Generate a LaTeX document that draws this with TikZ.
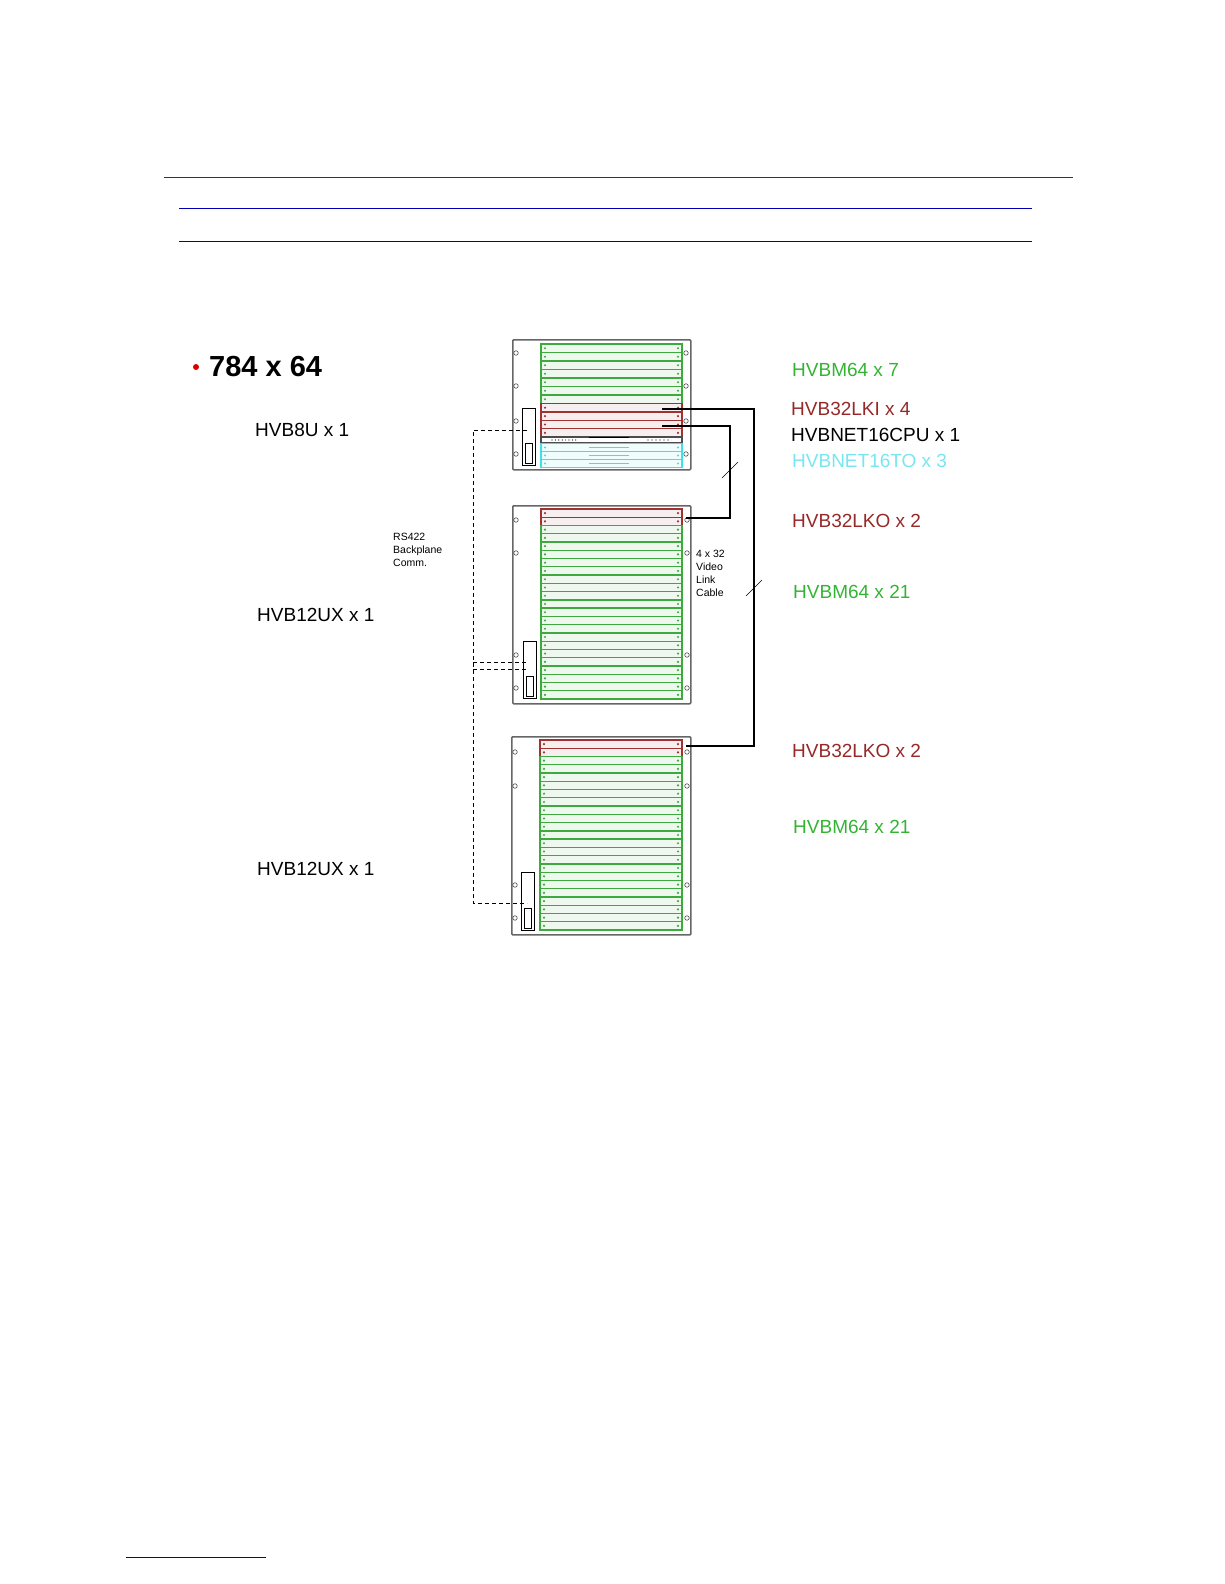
\documentclass[tikz,border=0pt]{standalone}
\usepackage{fontspec}
\setmainfont{Liberation Sans}
\usepackage{xcolor}
\usetikzlibrary{positioning}
\definecolor{cardgreen}{RGB}{60,170,60}
\definecolor{cardred}{RGB}{160,50,50}
\definecolor{cardcyan}{RGB}{60,225,235}
\definecolor{lblgreen}{RGB}{50,180,50}
\definecolor{lblred}{RGB}{150,40,40}
\definecolor{lblcyan}{RGB}{120,230,240}
\tikzset{
  chassis/.style={draw=black!60, line width=1.6pt, rounded corners=1pt, inner sep=0pt},
  panel/.style={draw=black, line width=0.6pt, inner sep=0pt},
  hole/.style={circle, draw=black!70, line width=0.6pt, inner sep=1.6pt},
  lbl/.style={anchor=west, font=\fontsize{19}{19}\selectfont, inner sep=0pt},
  small/.style={anchor=west, font=\fontsize{10.5}{13}\selectfont, align=left, inner sep=0pt},
  cable/.style={line width=1.2pt},
  bus/.style={dashed, line width=1pt, dash pattern=on 4pt off 3pt}
}
\newcommand{\cardrow}[4]{% x-start, y-top, y-bottom, colour
  \draw[#4, line width=1.3pt, fill=#4!8] (#1,#2) rectangle (682,#3);
  \fill[#4] (#1+4,{(#2+#3)/2}) circle (1.2pt) (678,{(#2+#3)/2}) circle (1.2pt);
}
\begin{document}
\begin{tikzpicture}[x=1pt, y=-1pt]
\useasboundingbox (0,0) rectangle (1224,1584);

% header rules
\draw[red!70!black] (164,177) -- (1073,177);
\draw[blue!70!black] (179,208) -- (1032,208);
\draw[blue!70!black] (179,241) -- (1032,241);
\draw[blue!70!black] (126,1557) -- (266,1557);

% title
\fill[red!85!black] (196,367) circle (3pt);
\node[anchor=west, font=\bfseries\fontsize{29}{29}\selectfont, inner sep=0pt] (title) at (209,367) {784 x 64};

% chassis frames
\node[chassis, minimum width=178pt, minimum height=130pt, anchor=north west] (ch1) at (512,339) {};
\node[chassis, minimum width=178pt, minimum height=198pt, anchor=north west] (ch2) at (512,505) {};
\node[chassis, minimum width=179pt, minimum height=198pt, anchor=north west] (ch3) at (511,736) {};

% top chassis cards
\foreach \i in {0,...,6} {\cardrow{541}{344+\i*8.5}{352.5+\i*8.5}{cardgreen}}
\foreach \i in {0,...,3} {\cardrow{541}{403.5+\i*8.4}{411.9+\i*8.4}{cardred}}
\draw[black!70, line width=1.3pt, fill=white] (541,437) rectangle (682,443);
\draw[line width=1.5pt] (589,437.5) -- (629,437.5);
\foreach \i in {0,...,7} {\fill (552+\i*3.4,440) circle (0.6pt);}
\foreach \i in {0,...,5} {\fill (648+\i*4,440) circle (0.6pt);}
\foreach \i in {0,...,2} {\cardrow{541}{443.5+\i*8}{451.5+\i*8}{cardcyan}}
\foreach \i in {0,...,2} {\draw[cardcyan, line width=1.2pt] (589,447.5+\i*8) -- (629,447.5+\i*8);}

% middle and bottom chassis cards
\foreach \i in {0,1} {\cardrow{541}{509+\i*8.26}{517.26+\i*8.26}{cardred}}
\foreach \i in {2,...,22} {\cardrow{541}{509+\i*8.26}{517.26+\i*8.26}{cardgreen}}
\foreach \i in {0,1} {\cardrow{540}{740+\i*8.26}{748.26+\i*8.26}{cardred}}
\foreach \i in {2,...,22} {\cardrow{540}{740+\i*8.26}{748.26+\i*8.26}{cardgreen}}

% holes
\foreach \y in {353,386,421,454} {\node[hole] (h1l\y) at (516,\y) {}; \node[hole] (h1r\y) at (686,\y) {};}
\foreach \y in {520,553,655,688} {\node[hole] (h2l\y) at (516,\y) {}; \node[hole] (h2r\y) at (687,\y) {};}
\foreach \y in {752,786,885,918} {\node[hole] (h3l\y) at (515,\y) {}; \node[hole] (h3r\y) at (687,\y) {};}

% controller panels
\node[panel, minimum width=13pt, minimum height=57pt, anchor=north west] (p1) at (522,408) {};
\node[panel, minimum width=13pt, minimum height=57pt, anchor=north west] (p2) at (523,641) {};
\node[panel, minimum width=13pt, minimum height=58pt, anchor=north west] (p3) at (521,872) {};
\foreach \p in {p1,p2,p3}
  {\draw[line width=0.8pt] ([shift={(-3.5,7)}]\p.center) rectangle ([shift={(3.5,27)}]\p.center);}

% video link cables
\coordinate (a1) at (662,409);
\coordinate (a2) at (754,409);
\coordinate (a3) at (754,746);
\coordinate (a4) at (686,746);
\coordinate (b1) at (662,426);
\coordinate (b2) at (730,426);
\coordinate (b3) at (730,518);
\coordinate (b4) at (686,518);
\draw[cable] (a1) -- (a2) -- (a3) -- (a4);
\draw[cable] (b1) -- (b2) -- (b3) -- (b4);
\draw[line width=0.6pt] (722,478) -- (738,462);
\draw[line width=0.6pt] (746,596) -- (762,580);

% RS422 bus
\coordinate (d0) at (473,430);
\coordinate (d1) at (473,903);
\draw[bus] (527,430) -- (d0) -- (d1) -- (527,903);
\draw[bus] (473,662) -- (527,662);
\draw[bus] (473,669) -- (527,669);

% side notes
\node[small] (rs) at (393,550) {RS422\\Backplane\\Comm.};
\node[small] (vl) at (696,573) {4 x 32\\Video\\Link\\Cable};

% chassis labels
\node[lbl] (l1) at (255,430) {HVB8U x 1};
\node[lbl] (l2) at (257,615) {HVB12UX x 1};
\node[lbl] (l3) at (257,869) {HVB12UX x 1};

% card labels
\node[lbl, text=lblgreen] (c1) at (792,370) {HVBM64 x 7};
\node[lbl, text=lblred] (c2) at (791,409) {HVB32LKI x 4};
\node[lbl] (c3) at (791,435) {HVBNET16CPU x 1};
\node[lbl, text=lblcyan] (c4) at (792,461) {HVBNET16TO x 3};
\node[lbl, text=lblred] (c5) at (792,521) {HVB32LKO x 2};
\node[lbl, text=lblgreen] (c6) at (793,592) {HVBM64 x 21};
\node[lbl, text=lblred] (c7) at (792,751) {HVB32LKO x 2};
\node[lbl, text=lblgreen] (c8) at (793,827) {HVBM64 x 21};
\end{tikzpicture}
\end{document}
